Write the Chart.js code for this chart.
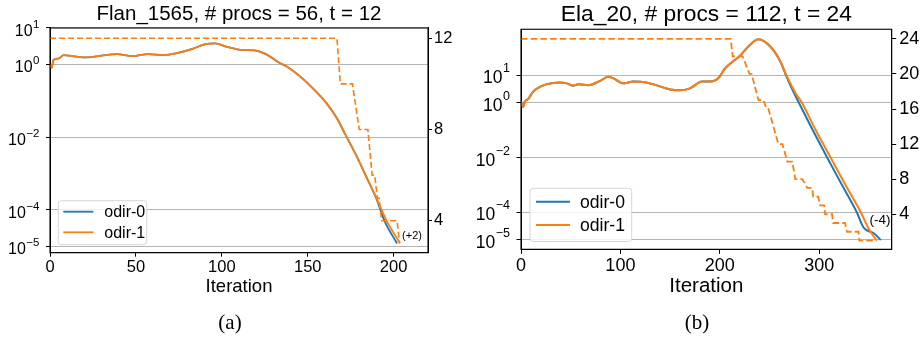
<!DOCTYPE html>
<html>
<head>
<meta charset="utf-8">
<script src="https://cdn.jsdelivr.net/npm/chart.js@4.4.0/dist/chart.umd.min.js"></script>
<style>
  body { margin: 0; background: #fff; }
  #wrap { position: relative; width: 922px; height: 339px; overflow: hidden; }
  canvas { position: absolute; top: 0; }
  .cap { position: absolute; font-family: "Liberation Serif", "DejaVu Serif", serif; font-size: 21px; color: #000; transform: translateX(-50%); }
</style>
</head>
<body>
<div id="wrap">
  <canvas id="chartA" width="461" height="339" style="left:0"></canvas>
  <canvas id="chartB" width="461" height="339" style="left:461px"></canvas>
  <div class="cap" style="left:230px; top:310px">(a)</div>
  <div class="cap" style="left:697px; top:310px">(b)</div>
</div>
<script>
// ---- panel (a): Flan_1565 ----
var aIter1 = [0, 1, 2, 5, 8, 13, 22, 30, 39, 48, 57, 66, 75, 82, 90, 96, 103, 111, 119, 126, 133, 138, 145, 153, 161, 167, 172, 178, 184, 190, 196, 203.5];
var aRes1 = [1.0, 0.81, 1.32, 1.45, 1.8, 1.69, 1.55, 1.73, 1.91, 1.69, 1.91, 1.8, 2.09, 2.57, 3.55, 3.76, 3.02, 2.51, 2.43, 1.88, 1.14, 0.86, 0.49, 0.22, 0.085, 0.033, 0.0115, 3.3e-3, 8.3e-4, 2.1e-4, 4.9e-5, 1.26e-5];
var aIter0 = [0, 1, 2, 5, 8, 13, 22, 30, 39, 48, 57, 66, 75, 82, 90, 96, 103, 111, 119, 126, 133, 138, 145, 153, 161, 167, 172, 178, 184, 190, 195, 202];
var aRes0 = [1.0, 0.81, 1.32, 1.45, 1.8, 1.69, 1.55, 1.73, 1.91, 1.69, 1.91, 1.8, 2.09, 2.57, 3.55, 3.76, 3.02, 2.51, 2.43, 1.88, 1.14, 0.86, 0.49, 0.22, 0.085, 0.033, 0.0115, 3.3e-3, 8.3e-4, 2.0e-4, 4.6e-5, 1.2e-5];
var aStepIter = [0, 167, 168, 169, 176, 178, 180, 185, 187.5, 189, 190.5, 191.5, 193, 202, 203.5];
var aStepVal = [12, 12, 11, 10, 10, 9, 8, 8, 6, 6, 5, 5, 4, 4, 3];
var aXTicks = [0, 50, 100, 150, 200];
var aYTicks = [10, 1, 1e-2, 1e-4, 1e-5];
var aY2Ticks = [4, 8, 12];

// ---- panel (b): Ela_20 ----
var bIter1 = [0, 2, 4, 7, 12, 19, 26, 39, 46, 52, 58, 68, 79, 88, 93, 103, 113, 126, 136, 150, 160, 170, 182, 193, 199, 205, 212, 220, 230, 239, 251, 261, 267, 276, 282.5, 296.5, 311.5, 326.5, 342, 350, 357.5];
var bRes1 = [1.06, 0.69, 1.12, 1.32, 2.45, 3.7, 4.7, 5.4, 5.0, 4.1, 4.6, 4.3, 6.0, 8.7, 7.6, 5.0, 5.8, 5.4, 4.3, 3.0, 2.8, 3.3, 5.8, 6.0, 8.0, 17, 29, 49, 123, 200, 107, 31, 10, 2.3, 1.0, 0.1, 0.01, 1e-3, 1e-4, 2.5e-5, 1e-5];
var bIter0 = [0, 2, 4, 7, 12, 19, 26, 39, 46, 52, 58, 68, 79, 88, 93, 103, 113, 126, 136, 150, 160, 170, 182, 193, 199, 205, 212, 220, 230, 239, 251, 261, 266.5, 274.5, 279.5, 293.5, 308, 323, 338, 344.5, 349.5, 355, 362];
var bRes0 = [1.06, 0.69, 1.12, 1.32, 2.45, 3.7, 4.7, 5.4, 5.0, 4.1, 4.6, 4.3, 6.0, 8.7, 7.6, 5.0, 5.8, 5.4, 4.3, 3.0, 2.8, 3.3, 5.8, 6.0, 8.0, 17, 29, 49, 123, 200, 107, 31, 10, 2.3, 1.0, 0.1, 0.01, 1e-3, 1e-4, 2.9e-5, 2.1e-5, 1.75e-5, 1e-5];
var bStepIter = [0, 211, 213, 223, 230, 232, 239, 244, 247, 249, 259, 263, 268, 273, 276, 283, 288, 293, 294, 299, 301, 305, 306, 313, 314, 326, 328, 339.5, 340.5, 358];
var bStepVal = [24, 24, 22, 22, 20, 20, 17, 17, 16, 16, 12, 12, 10, 10, 8, 8, 7, 7, 6, 6, 5, 5, 4, 4, 3, 3, 2, 2, 1, 1];
var bXTicks = [0, 100, 200, 300];
var bYTicks = [10, 1, 1e-2, 1e-4, 1e-5];
var bY2Ticks = [4, 8, 12, 16, 20, 24];

var BLUE = '#1f77b4', ORANGE = '#ff7f0e';
var FONT = '"Liberation Sans", Arial, sans-serif';

function pts(xs, ys) {
    return xs.map((x, i) => ({ x: x, y: ys[i] }));
}

// frame, superscript tick labels, inner legend and note
var decor = {
    id: 'decor',
    afterDraw(chart, args, o) {
        var ctx = chart.ctx, a = chart.chartArea, ys = chart.scales.y;
        ctx.save();
        ctx.strokeStyle = '#000';
        ctx.lineWidth = 1.1;
        ctx.strokeRect(a.left, a.top, a.right - a.left, a.bottom - a.top);

        ctx.fillStyle = '#000';
        ctx.textAlign = 'right';
        ctx.textBaseline = 'alphabetic';
        o.yTicks.forEach(v => {
            var e = Math.round(Math.log10(v));
            var py = ys.getPixelForValue(v);
            var sup = e < 0 ? '\u2212' + (-e) : String(e);
            ctx.font = o.supSize + 'px ' + FONT;
            var sw = ctx.measureText(sup).width;
            ctx.fillText(sup, o.labelRight, py + o.supDy);
            ctx.font = o.tickSize + 'px ' + FONT;
            ctx.fillText('10', o.labelRight - sw - 0.5, py + o.baseDy);
        });

        // legend box
        var L = o.legend;
        ctx.beginPath();
        ctx.roundRect(L.x, L.y, L.w, L.h, 3);
        ctx.fillStyle = 'rgba(255,255,255,0.8)';
        ctx.fill();
        ctx.strokeStyle = '#d6d6d6';
        ctx.lineWidth = 1;
        ctx.stroke();
        ctx.font = L.size + 'px ' + FONT;
        ctx.textAlign = 'left';
        ctx.textBaseline = 'middle';
        L.items.forEach((it, i) => {
            var yy = L.rowY[i];
            ctx.strokeStyle = it.color;
            ctx.lineWidth = o.lw;
            ctx.beginPath();
            ctx.moveTo(L.lineX0, yy);
            ctx.lineTo(L.lineX1, yy);
            ctx.stroke();
            ctx.fillStyle = '#000';
            ctx.fillText(it.text, L.textX, yy + 1);
        });

        ctx.font = o.noteSize + 'px ' + FONT;
        ctx.textAlign = 'center';
        ctx.fillText(o.note, o.noteX, o.noteY);
        ctx.restore();
    }
};

function makeChart(id, p) {
    var ctx = document.getElementById(id).getContext('2d');
    return new Chart(ctx, {
        type: 'line',
        data: {
            datasets: [{
                label: 'odir-1 steps',
                data: pts(p.stepIter, p.stepVal),
                yAxisID: 'y2',
                borderColor: ORANGE,
                borderWidth: p.lw * 0.9,
                borderDash: p.dash,
                pointRadius: 0
            }, {
                label: 'odir-1',
                data: pts(p.iter1, p.res1),
                yAxisID: 'y',
                borderColor: ORANGE,
                borderWidth: p.lw,
                pointRadius: 0,
                cubicInterpolationMode: 'monotone'
            }, {
                label: 'odir-0',
                data: pts(p.iter0, p.res0),
                yAxisID: 'y',
                borderColor: BLUE,
                borderWidth: p.lw,
                pointRadius: 0,
                cubicInterpolationMode: 'monotone'
            }]
        },
        options: {
            responsive: false,
            animation: false,
            devicePixelRatio: 1,
            layout: { padding: { left: 0, right: 0, top: 0, bottom: p.padBottom } },
            font: { family: FONT },
            plugins: {
                legend: { display: false },
                tooltip: { enabled: false },
                title: {
                    display: true,
                    text: p.title,
                    fullSize: false,
                    color: '#000',
                    font: { size: p.titleSize, weight: 'normal', family: FONT, lineHeight: 1.2 },
                    padding: p.titlePad
                },
                decor: p.decor
            },
            scales: {
                x: {
                    type: 'linear',
                    position: 'bottom',
                    min: 0,
                    max: p.xMax,
                    afterBuildTicks: s => { s.ticks = p.xTicks.map(v => ({ value: v })); },
                    afterFit: s => { s.height = 50; },
                    ticks: { color: '#000', font: { size: p.tickSize, family: FONT }, padding: 1, maxRotation: 0 },
                    grid: { drawOnChartArea: false, tickLength: p.tl, tickColor: '#000', tickWidth: 1 },
                    border: { color: '#000', width: 1 },
                    title: {
                        display: true,
                        text: 'Iteration',
                        color: '#000',
                        font: { size: p.labelSize, family: FONT },
                        padding: { top: 0, bottom: p.xTitlePad }
                    }
                },
                y: {
                    type: 'logarithmic',
                    position: 'left',
                    min: p.yMin,
                    max: p.yMax,
                    afterBuildTicks: s => { s.ticks = p.yTicks.map(v => ({ value: v })); },
                    afterFit: s => { s.width = p.leftW; },
                    ticks: { display: false },
                    grid: { color: '#b4b4b4', lineWidth: 1, tickLength: p.tl, tickColor: '#000', tickWidth: 1 },
                    border: { color: '#000', width: 1 }
                },
                y2: {
                    type: 'linear',
                    position: 'right',
                    min: p.y2Min,
                    max: p.y2Max,
                    afterBuildTicks: s => { s.ticks = p.y2Ticks.map(v => ({ value: v })); },
                    afterFit: s => { s.width = p.rightW; },
                    ticks: { color: '#000', font: { size: p.tickSize, family: FONT }, padding: p.y2Pad },
                    grid: { drawOnChartArea: false, tickLength: p.tl, tickColor: '#000', tickWidth: 1 },
                    border: { color: '#000', width: 1 }
                }
            }
        },
        plugins: [decor]
    });
}

makeChart('chartA', {
    title: 'Flan_1565, # procs = 56, t = 12',
    iter1: aIter1, res1: aRes1, iter0: aIter0, res0: aRes0,
    stepIter: aStepIter, stepVal: aStepVal,
    xTicks: aXTicks, yTicks: aYTicks, y2Ticks: aY2Ticks,
    xMax: 220, yMin: Math.pow(10, -5.175), yMax: 10, y2Min: 2.6, y2Max: 12.45,
    lw: 1.8, dash: [6, 3], tl: 4,
    titleSize: 20.5, titlePad: { top: 2, bottom: 1.4 },
    tickSize: 16.5, labelSize: 18.5, xTitlePad: 5, y2Pad: 2,
    leftW: 50, rightW: 33, padBottom: 36.3,
    decor: {
        yTicks: aYTicks, labelRight: 39.5, tickSize: 16, supSize: 11.5, baseDy: 8, supDy: 0,
        lw: 1.8,
        legend: {
            x: 58.3, y: 200.7, w: 88.4, h: 44, size: 16,
            lineX0: 63.3, lineX1: 93.3, textX: 104.3, rowY: [211.7, 232.3],
            items: [{ text: 'odir-0', color: BLUE }, { text: 'odir-1', color: ORANGE }]
        },
        note: '(+2)', noteSize: 11, noteX: 412, noteY: 236
    }
});

makeChart('chartB', {
    title: 'Ela_20, # procs = 112, t = 24',
    iter1: bIter1, res1: bRes1, iter0: bIter0, res0: bRes0,
    stepIter: bStepIter, stepVal: bStepVal,
    xTicks: bXTicks, yTicks: bYTicks, y2Ticks: bY2Ticks,
    xMax: 373, yMin: Math.pow(10, -5.34), yMax: Math.pow(10, 2.668), y2Min: 0, y2Max: 25.1,
    lw: 2, dash: [6.5, 3.2], tl: 4.5,
    titleSize: 22.8, titlePad: { top: 1.3, bottom: 0.6 },
    tickSize: 18, labelSize: 20.5, xTitlePad: 0.7, y2Pad: 3,
    leftW: 60, rightW: 30.3, padBottom: 39.7,
    decor: {
        yTicks: bYTicks, labelRight: 49, tickSize: 17.5, supSize: 12.5, baseDy: 8, supDy: -3,
        lw: 2,
        legend: {
            x: 69, y: 188.3, w: 101.7, h: 53.2, size: 17.6,
            lineX0: 75, lineX1: 109, textX: 119, rowY: [201.7, 225],
            items: [{ text: 'odir-0', color: BLUE }, { text: 'odir-1', color: ORANGE }]
        },
        note: '(-4)', noteSize: 13.5, noteX: 419, noteY: 220
    }
});
</script>
</body>
</html>
